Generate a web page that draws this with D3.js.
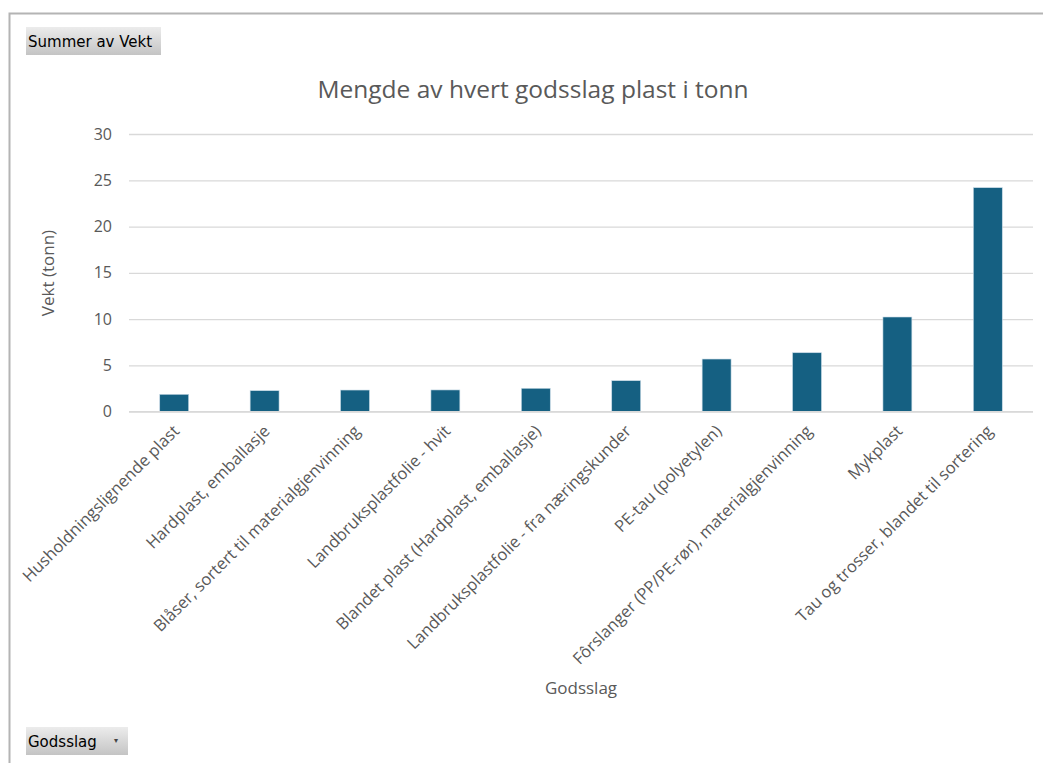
<!DOCTYPE html>
<html>
<head>
<meta charset="utf-8">
<script src="https://cdn.jsdelivr.net/npm/d3@7"></script>
<style>
  body { margin: 0; background: #fff; }
  svg { display: block; }
  text { font-family: "Open Sans", "Noto Sans", sans-serif; }
</style>
</head>
<body>
<svg id="chart" width="1043" height="763"></svg>
<script>
const categories = [
    "Husholdningslignende plast",
    "Hardplast, emballasje",
    "Blåser, sortert til materialgjenvinning",
    "Landbruksplastfolie - hvit",
    "Blandet plast (Hardplast, emballasje)",
    "Landbruksplastfolie - fra næringskunder",
    "PE-tau (polyetylen)",
    "Fôrslanger (PP/PE-rør), materialgjenvinning",
    "Mykplast",
    "Tau og trosser, blandet til sortering"
];
const weights = [1.88, 2.27, 2.34, 2.35, 2.53, 3.35, 5.69, 6.37, 10.23, 24.2];
const yTicks = [0, 5, 10, 15, 20, 25, 30];

const svg = d3.select('#chart');
const textColor = "#595959";

// outer frame of the pivot chart
svg.append("path")
    .attr("d", "M9.5,763 V13.5 H1043")
    .attr("fill", "none")
    .attr("stroke", "#b4b4b4")
    .attr("stroke-width", 2);

const plotLeft = 129;
const plotRight = 1033;
const plotTop = 134;
const plotBottom = 411.7;

const x = d3.scaleBand()
    .domain(categories)
    .range([plotLeft, plotRight])
    .paddingInner(0.68)
    .paddingOuter(0.34);

const y = d3.scaleLinear()
    .domain([0, 30])
    .range([plotBottom, plotTop]);

// gridlines
const yAxis = d3.axisLeft(y)
    .tickValues(yTicks)
    .tickSize(-(plotRight - plotLeft))
    .tickPadding(17);

const yg = svg.append("g")
    .attr("transform", `translate(${plotLeft},0)`)
    .call(yAxis);
yg.select(".domain").remove();
yg.selectAll(".tick line").attr("stroke", "#d9d9d9").attr("stroke-width", 1.3);
yg.selectAll(".tick text")
    .attr("fill", textColor)
    .style("font-size", "16px");

// bars
svg.append("g")
    .selectAll("rect")
    .data(weights)
    .join("rect")
    .attr("x", (d, i) => x(categories[i]))
    .attr("y", d => y(d))
    .attr("width", x.bandwidth())
    .attr("height", d => plotBottom - y(d))
    .attr("fill", "#156082")
    .attr("stroke", "#c9dbe6")
    .attr("stroke-width", 0.6);

// x axis line
svg.append("line")
    .attr("x1", plotLeft).attr("x2", plotRight)
    .attr("y1", plotBottom).attr("y2", plotBottom)
    .attr("stroke", "#d9d9d9")
    .attr("stroke-width", 1.3);

// category labels
svg.append("g")
    .selectAll("text")
    .data(categories)
    .join("text")
    .attr("transform", d => `translate(${x(d) + x.bandwidth() / 2 + 2},428) rotate(-45)`)
    .attr("text-anchor", "end")
    .attr("dy", "0.35em")
    .attr("fill", textColor)
    .style("font-size", "16.5px")
    .text(d => d);

// title
svg.append("text")
    .attr("x", 533)
    .attr("y", 98)
    .attr("text-anchor", "middle")
    .attr("fill", textColor)
    .style("font-size", "24.5px")
    .text("Mengde av hvert godsslag plast i tonn");

// axis titles
svg.append("text")
    .attr("transform", "translate(54,273) rotate(-90)")
    .attr("text-anchor", "middle")
    .attr("fill", textColor)
    .style("font-size", "17px")
    .text("Vekt (tonn)");

svg.append("text")
    .attr("x", 581)
    .attr("y", 694)
    .attr("text-anchor", "middle")
    .attr("fill", textColor)
    .style("font-size", "17px")
    .text("Godsslag");

// pivot field buttons
const grad = svg.append("defs").append("linearGradient")
    .attr("id", "btnGrad")
    .attr("x1", 0).attr("y1", 0).attr("x2", 0).attr("y2", 1);
grad.append("stop").attr("offset", "0%").attr("stop-color", "#ececec");
grad.append("stop").attr("offset", "100%").attr("stop-color", "#c4c4c4");

const buttons = [
    { label: "Summer av Vekt", x: 26, y: 27, w: 135, h: 28, arrow: false },
    { label: "Godsslag", x: 26, y: 727, w: 102, h: 28, arrow: true }
];

const btn = svg.append("g")
    .selectAll("g")
    .data(buttons)
    .join("g")
    .attr("transform", d => `translate(${d.x},${d.y})`);
btn.append("rect")
    .attr("width", d => d.w)
    .attr("height", d => d.h)
    .attr("fill", "url(#btnGrad)");
btn.append("text")
    .attr("x", 2)
    .attr("y", 20)
    .attr("fill", "#000")
    .style("font-family", "'DejaVu Sans', sans-serif")
    .style("font-size", "15px")
    .text(d => d.label);
btn.filter(d => d.arrow)
    .append("text")
    .attr("x", d => d.w - 14)
    .attr("y", 16)
    .attr("fill", "#444")
    .style("font-size", "8px")
    .text("▾");
</script>
</body>
</html>
